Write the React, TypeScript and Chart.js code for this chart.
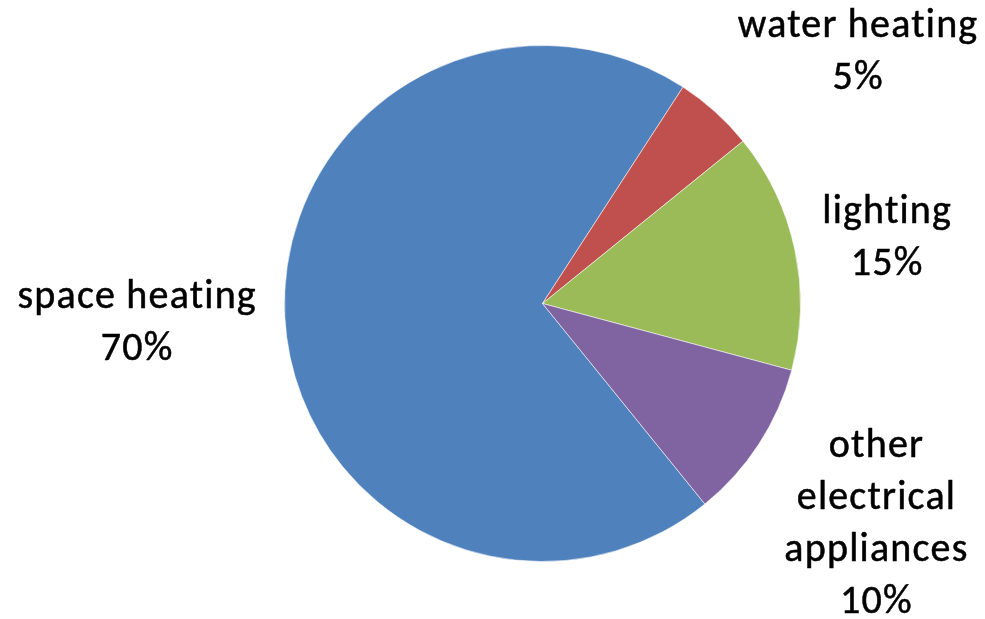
import React, { useEffect, useRef } from "react";
import { Chart, registerables } from "chart.js";

Chart.register(...registerables);

const categories = ["space heating", "water heating", "lighting", "other electrical appliances"];
const shares = [70, 5, 15, 10];
const sliceColors = ["#4F81BD", "#C0504D", "#9BBB59", "#8064A2"];

const FONT = "40px Carlito, Lato, 'Noto Sans', sans-serif";
const LINE_H = 52;

const wrap = (ctx: CanvasRenderingContext2D, text: string, maxW: number): string[] => {
  const words = text.split(" ");
  const lines: string[] = [];
  let cur = "";
  for (const w of words) {
    const t = cur ? cur + " " + w : w;
    if (cur && ctx.measureText(t).width > maxW) {
      lines.push(cur);
      cur = w;
    } else cur = t;
  }
  if (cur) lines.push(cur);
  return lines;
};

const outsideLabels = {
  id: "outsideLabels",
  afterDatasetsDraw(chart: any, _args: any, opts: any) {
    const ctx: CanvasRenderingContext2D = chart.ctx;
    const meta = chart.getDatasetMeta(0);
    const labels: string[] = chart.data.labels;
    const values: number[] = chart.data.datasets[0].data;
    ctx.save();
    ctx.font = FONT;
    (ctx as any).letterSpacing = opts.letterSpacing;
    ctx.fillStyle = "#000";
    ctx.strokeStyle = "#000";
    ctx.lineWidth = 0.5;
    ctx.lineJoin = "round";
    ctx.textAlign = "center";
    ctx.textBaseline = "middle";
    meta.data.forEach((arc: any, i: number) => {
      const { x, y, startAngle, endAngle, outerRadius } = arc.getProps(
        ["x", "y", "startAngle", "endAngle", "outerRadius"],
        true
      );
      const mid = (startAngle + endAngle) / 2;
      const d = outerRadius + opts.gap;
      const px = x + Math.cos(mid) * d;
      const py = y + Math.sin(mid) * d;
      const lines = [...wrap(ctx, labels[i], opts.wrapWidth), values[i] + "%"];
      const w = Math.max(...lines.map((l) => ctx.measureText(l).width));
      const h = lines.length * LINE_H;
      const fx = Math.cos(mid) >= 0 ? 1 : -1;
      const fy = Math.max(-1, Math.min(1, Math.sin(mid) * 1.1));
      const nudge = opts.nudges[i] || { dx: 0, dy: 0 };
      const cx = px + (w / 2) * fx + nudge.dx;
      const cy = py + (h / 2) * fy + nudge.dy + opts.shiftY;
      lines.forEach((l, k) => {
        const ly = cy - h / 2 + LINE_H * (k + 0.5);
        ctx.fillText(l, cx, ly);
        ctx.strokeText(l, cx, ly);
      });
    });
    ctx.restore();
  },
};

export default function App() {
  const ref = useRef<HTMLCanvasElement | null>(null);
  useEffect(() => {
    if (!ref.current) return;
    const chart = new Chart(ref.current, {
      type: "pie",
      data: {
        labels: categories,
        datasets: [
          {
            data: shares,
            backgroundColor: sliceColors,
            borderColor: "rgba(255,255,255,0.55)",
            borderWidth: 1,
            hoverOffset: 0,
          },
        ],
      },
      options: {
        animation: false,
        responsive: true,
        maintainAspectRatio: false,
        rotation: 141,
        radius: 258,
        layout: { padding: { top: 45.5, bottom: 57.5, left: 284.5, right: 184.5 } },
        plugins: {
          legend: { display: false },
          tooltip: { enabled: false },
          outsideLabels: {
            gap: 28,
            wrapWidth: 250,
            letterSpacing: "1.2px",
            shiftY: 3,
            nudges: [
              { dx: 0, dy: 0 },
              { dx: 4, dy: 2 },
              { dx: 0, dy: 4 },
              { dx: 2, dy: 0 },
            ],
          },
        } as any,
      },
      plugins: [outsideLabels],
    });
    return () => chart.destroy();
  }, []);
  return (
    <div style={{ position: "absolute", left: 0, top: 0, width: "985px", height: "619px", background: "#fff" }}>
      <canvas ref={ref} />
    </div>
  );
}
